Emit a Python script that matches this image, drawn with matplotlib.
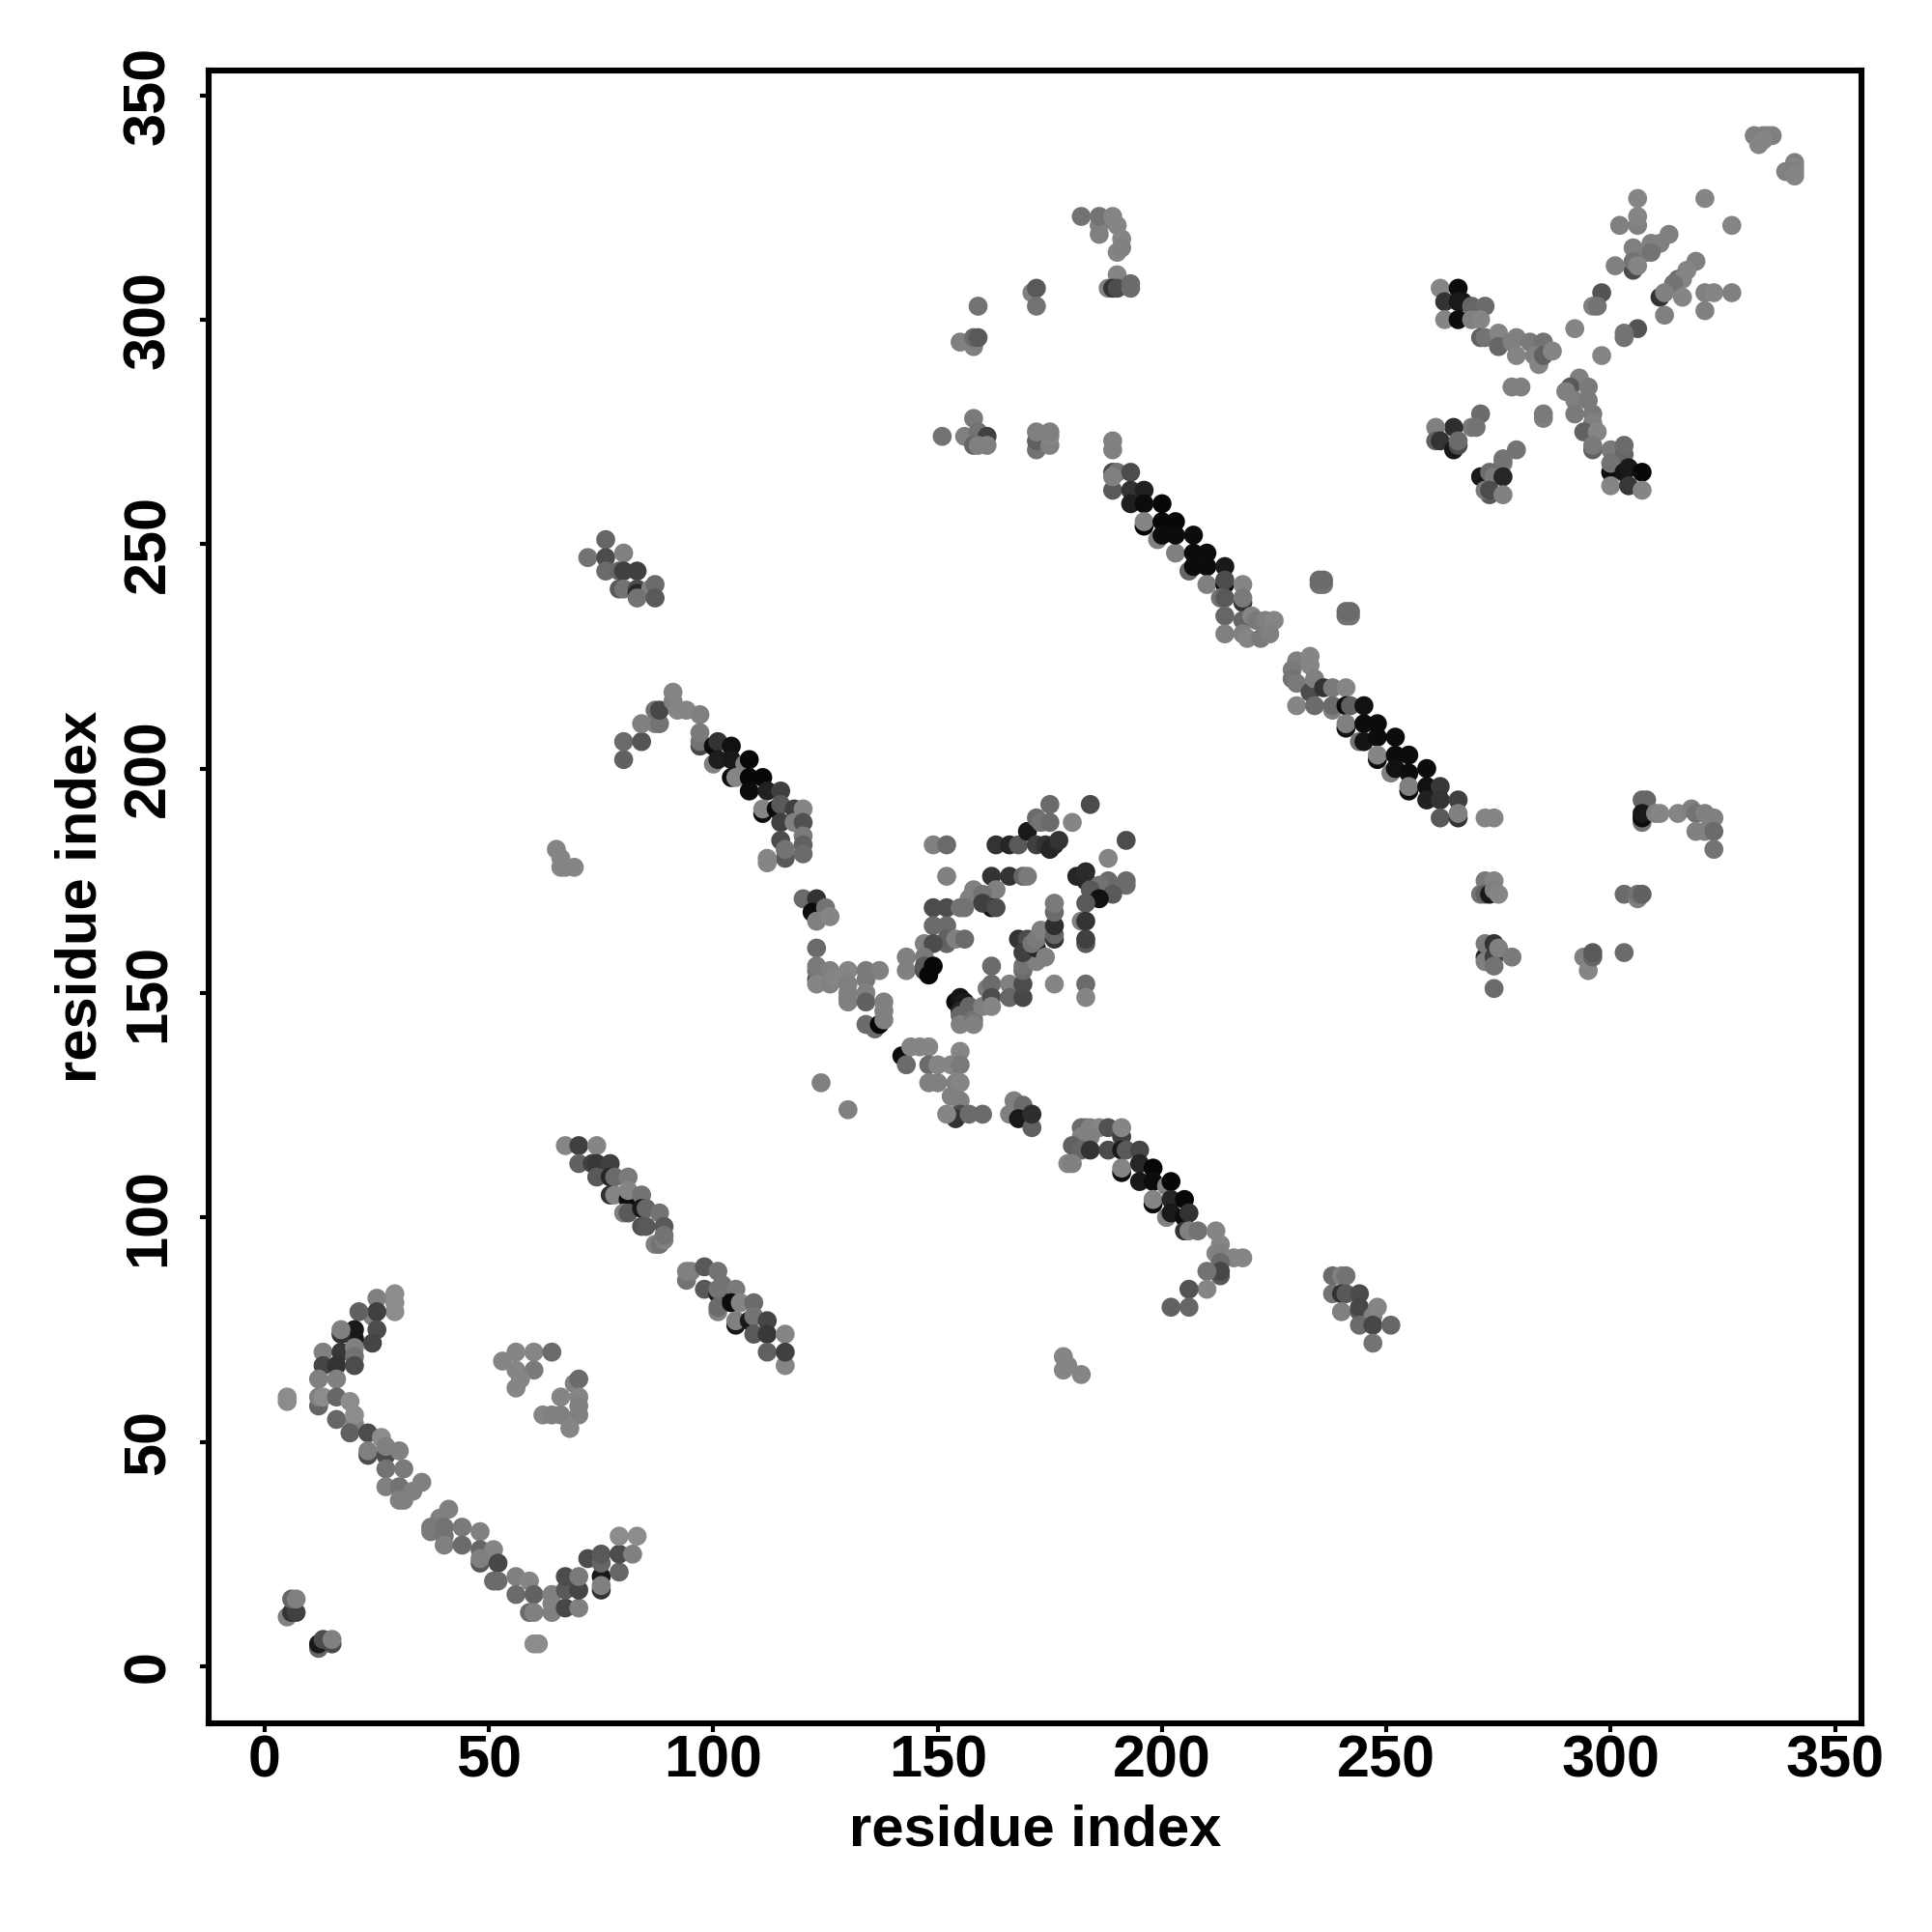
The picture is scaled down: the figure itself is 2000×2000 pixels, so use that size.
import numpy as np
import matplotlib
matplotlib.use('Agg')
import matplotlib.pyplot as plt

plt.rcParams['font.family'] = ['Liberation Sans', 'DejaVu Sans']
plt.rcParams['font.weight'] = 'bold'

# contacts: (residue i, residue j, gray level)
corner = [(5,11,.5),(6,12,.2),(7,12,.25),(6,15,.4),(7,15,.5),(12,4,.4),(12,5,.1),(13,6,.3),(15,5,.3),(15,6,.5),
          (60,5,.55),(61,5,.55),(5,59,.55),(5,60,.55)]
arm_up = [(29,79,.55),(29,81,.55),(29,83,.55),(25,82,.5),(24,78,.5),(25,79,.25),(21,79,.38),(25,75,.3),(24,72,.27),
          (20,73,.1),(20,75,.1),(17,74,.2),(17,75,.5),(13,70,.5),(17,70,.22),(20,71,.5),(20,69,.45),(13,67,.27),
          (16,67,.2),(20,67,.3),(12,64,.5),(16,64,.5),(12,58,.4),(12,60,.5),(13,60,.55),(16,60,.4),(19,59,.55)]
arm_down = [(16,55,.4),(20,54,.5),(20,56,.55),(19,52,.38),(23,52,.3),(26,51,.55),(23,47,.3),(23,48,.5),(27,47,.3),
            (27,49,.5),(30,48,.5),(27,44,.45),(31,44,.48),(27,40,.5),(30,40,.45),(35,41,.5),(33,39,.5),(30,37,.5),
            (31,37,.5),(41,35,.5),(39,33,.5),(37,30,.48),(37,31,.48),(40,29,.45),(40,31,.45),(40,27,.5),(44,31,.48),
            (44,27,.42),(48,30,.5),(48,26,.4),(51,26,.52),(48,23,.35),(48,24,.5),(52,23,.28),(51,19,.42),(52,19,.42),
            (56,20,.5),(59,19,.52),(56,16,.42),(60,16,.38),(64,14,.5),(64,16,.5),(59,12,.42),(60,12,.5),(64,12,.5)]
arm_right = [(67,13,.28),(67,17,.35),(67,20,.3),(70,13,.5),(70,17,.27),(70,20,.48),(72,24,.3),(75,17,.2),(75,20,.1),
             (75,18,.5),(75,23,.4),(75,25,.35),(79,21,.4),(79,25,.3),(82,25,.5),(79,29,.55),(83,29,.55)]
patch_mid = [(53,68,.52),(56,70,.52),(60,70,.52),(64,70,.42),(56,66,.52),(60,66,.48),(56,62,.52),(57,64,.52),
             (69,63,.5),(70,64,.42),(66,60,.52),(70,60,.52),(62,56,.52),(64,56,.5),(66,56,.5),(70,58,.5),(70,56,.5),
             (68,53,.52)]
strand_a = [(67,116,.52),(70,116,.25),(74,116,.52),(70,112,.38),(73,112,.25),(74,112,.22),(77,112,.25),(74,109,.35),
            (77,109,.15),(78,109,.42),(81,109,.48),(77,105,.2),(78,105,.52),(81,104,.05),(81,106,.52),(84,105,.45),
            (80,101,.5),(81,101,.35),(84,102,.1),(85,102,.4),(88,101,.45),(84,98,.32),(85,98,.35),(89,98,.35),
            (87,94,.5),(88,94,.45),(89,95,.5),(89,96,.45)]
strand_b = [(94,86,.45),(94,88,.5),(95,88,.5),(98,89,.35),(101,88,.45),(98,84,.35),(101,83,.1),(101,84,.45),(102,85,.45),
            (105,84,.48),(101,79,.5),(101,80,.42),(104,81,.05),(106,81,.52),(109,81,.42),(105,76,.1),(105,77,.5),
            (108,77,.1),(109,78,.45),(112,77,.27),(109,74,.35),(112,74,.22),(112,70,.38),(116,74,.52),(116,67,.52),
            (116,70,.25)]
hook_top = [(80,202,.38),(80,206,.42),(84,206,.33),(84,210,.5),(87,210,.5),(88,210,.45),(87,213,.45),(88,213,.28),
            (91,215,.5),(91,217,.52),(92,213,.52),(94,213,.52),(97,212,.5),(97,205,.28),(97,206,.45),(97,208,.48),
            (100,205,.05),(101,206,.2),(104,205,.07),(100,201,.5),(101,202,.12),(104,202,.1),(107,201,.5),(108,202,.03),
            (104,198,.05),(105,198,.52),(108,198,.03),(111,198,.03),(108,195,.05),(112,195,.13),(115,195,.25),
            (111,190,.05),(111,191,.52),(114,191,.05),(115,192,.35),(118,191,.25),(120,191,.52),(115,188,.25),
            (118,188,.5),(120,188,.32),(120,185,.48),(115,184,.3),(120,183,.38),(120,181,.42),(116,180,.35),(116,182,.45),
            (112,179,.52),(112,180,.52)]
patch_upper = [(76,251,.4),(72,247,.45),(76,247,.3),(80,248,.5),(76,244,.42),(79,244,.4),(80,244,.25),(83,244,.25),
               (79,240,.35),(80,240,.45),(83,240,.3),(83,239,.15),(86,240,.5),(87,241,.42),(83,238,.45),(87,238,.35)]
patch_left = [(65,182,.52),(66,180,.52),(66,178,.52),(67,178,.52),(69,178,.52)]
loop_chain = [(120,171,.42),(123,171,.2),(122,168,.05),(125,169,.45),(123,166,.5),(126,167,.52),(123,160,.42),(123,153,.3),
              (123,155,.45),(123,156,.48),(123,152,.52),(126,155,.5),(126,152,.5),(127,153,.52),(130,155,.52),(130,152,.5),
              (134,155,.48),(137,155,.5),(134,153,.48),(130,150,.5),(130,149,.5),(130,148,.5),(134,150,.5),(134,148,.38),
              (138,148,.5),(138,146,.5),(134,143,.42),(136,142,.42),(137,143,.03),(138,144,.5),
              (142,136,.05),(143,134,.42),(144,138,.52),(146,138,.52),(148,138,.52),(148,134,.42),(150,134,.52),(155,137,.52),
              (153,134,.52),(155,134,.48),(148,130,.5),(150,130,.5),(154,130,.5),(155,130,.52),(153,127,.5),(155,126,.5),
              (155,123,.3),(154,122,.2),(152,123,.52),(157,123,.42),(160,123,.42),(124,130,.5),(130,124,.5),
              (167,126,.5),(166,123,.5),(169,125,.42),(168,122,.1),(171,120,.38),(171,123,.18)]
center_a = [(149,183,.5),(152,183,.42),(152,176,.5),(163,183,.2),(166,183,.15),(168,183,.35),(170,186,.1),(172,183,.25),
            (175,192,.42),(172,189,.42),(173,188,.45),(175,188,.42),(174,183,.2),(175,182,.15),(176,183,.15),(177,184,.2),
            (180,188,.52),(184,192,.3),(192,184,.3),(188,180,.52),(181,176,.15),(183,175,.15),(183,177,.17),(188,175,.42),
            (192,174,.42),(192,175,.42),(186,174,.45),(184,173,.35),(189,172,.35),(186,171,.07),(183,170,.35),(182,166,.5),
            (183,166,.2),(183,161,.35),(183,162,.25)]
center_b = [(162,176,.2),(166,176,.2),(169,176,.4),(170,176,.48),(157,171,.5),(158,173,.5),(163,173,.5),(160,172,.45),
            (162,169,.07),(160,170,.25),(163,169,.3),(149,169,.3),(152,169,.3),(155,169,.45),(156,169,.45),(149,165,.42),
            (152,165,.42),(152,161,.4),(152,162,.38),(154,162,.5),(156,162,.42),(147,161,.5),(149,161,.3),(143,158,.5),
            (147,158,.48),(143,155,.5),(147,155,.3),(147,156,.35),(148,154,.03),(149,156,.03)]
center_c = [(154,148,.05),(155,149,.08),(156,148,.1),(155,146,.15),(157,147,.4),(155,145,.4),(155,143,.5),(158,144,.45),(158,143,.5),
            (160,147,.5),(162,156,.42),(161,151,.48),(162,152,.42),(162,149,.3),(162,147,.52),(166,152,.5),(166,149,.4),
            (169,149,.28),(169,152,.3),(169,155,.42),(169,156,.45),(172,157,.5),(176,152,.52),(183,152,.42),(183,149,.52),
            (168,162,.2),(170,162,.3),(169,159,.25),(172,160,.15),(171,161,.45),(172,162,.48),(173,164,.5),(174,158,.5),
            (176,162,.2),(176,163,.4),(176,165,.18),(176,168,.42),(176,170,.48)]
patch_low = [(178,69,.52),(178,66,.52),(179,67,.52),(182,65,.52)]
hook_low = [(182,120,.42),(183,120,.42),(184,120,.5),(186,120,.52),(188,120,.32),(182,118,.5),(184,118,.5),(191,118,.25),
            (191,120,.52),(180,116,.38),(182,115,.4),(184,115,.2),(188,115,.3),(191,115,.1),(192,115,.35),(195,115,.28),
            (179,112,.52),(180,112,.5),(191,110,.05),(191,111,.52),(195,112,.15),(198,111,.03),(195,108,.1),(198,108,.05),
            (201,107,.5),(202,108,.03),(198,103,.03),(198,104,.52),(202,104,.15),(205,104,.03),(201,100,.5),(202,101,.1),
            (205,100,.05),(206,101,.2),(205,97,.2),(206,97,.5),(208,97,.45),(212,97,.52),(213,94,.52),(212,92,.52),
            (213,92,.5),(216,91,.52),(218,91,.52),(213,90,.42),(213,87,.35),(213,88,.28),(210,88,.45),(210,84,.52),
            (206,84,.33),(202,80,.38),(206,80,.4)]
patch_low2 = [(238,87,.42),(240,87,.5),(241,87,.45),(238,83,.45),(240,83,.2),(241,83,.35),(244,83,.3),(240,79,.5),
              (244,79,.35),(244,80,.28),(247,78,.5),(248,80,.52),(244,76,.42),(247,76,.28),(251,76,.4),(247,72,.45)]
helix_a = [(189,266,.3),(190,266,.45),(193,266,.3),(189,262,.35),(189,265,.5),(193,262,.2),(193,259,.12),(196,262,.13),
           (196,259,.05),(196,254,.02),(196,255,.52),(200,259,.03),(199,251,.5),(200,255,.03),(203,255,.03),(200,252,.05),
           (203,248,.5),(203,252,.05),(207,252,.05),(206,244,.4),(207,248,.05),(210,248,.05),(207,245,.05),(210,245,.05),
           (214,245,.1),(210,241,.5),(214,241,.05),(214,242,.3),(218,241,.52),(213,238,.45),(214,238,.35),(218,237,.2),
           (218,238,.48),(214,234,.4),(218,233,.4),(214,230,.5),(220,234,.52),(221,233,.48),(223,233,.5),(225,233,.52),
           (218,230,.5),(219,229,.52),(222,229,.48),(224,230,.5),(235,241,.45),(236,241,.45),(235,242,.42),(236,242,.42),
           (241,234,.45),(242,234,.45),(241,235,.42),(242,235,.42)]
helix_b = [(230,224,.5),(233,225,.52),(233,223,.52),(229,222,.48),(229,220,.45),(230,219,.48),(233,217,.3),(234,220,.5),
           (230,214,.52),(234,214,.42),(236,218,.2),(238,218,.48),(241,218,.52),(238,213,.5),(238,214,.42),(241,214,.05),
           (242,214,.38),(245,214,.07),(241,209,.08),(241,210,.5),(245,210,.05),(248,210,.05),(244,206,.45),(245,206,.08),
           (248,207,.05),(252,207,.05),(248,202,.05),(248,203,.52),(252,203,.05),(255,203,.05),(251,199,.5),(252,200,.07),
           (255,199,.05),(259,200,.05),(255,195,.05),(255,196,.5),(259,196,.07),(262,196,.22),(259,193,.13),(262,193,.2),
           (266,193,.25),(262,189,.35),(266,189,.2),(266,190,.5),(272,189,.52),(274,189,.52)]
far_right = [(307,193,.4),(308,193,.4),(307,188,.45),(307,189,.05),(307,190,.1),(310,190,.5),(311,190,.52),(315,190,.52),
             (318,191,.5),(319,190,.45),(321,190,.5),(323,189,.5),(319,186,.5),(321,186,.5),(323,186,.42),(323,182,.45),
             (272,175,.48),(274,175,.52),(271,172,.45),(272,172,.38),(273,172,.1),(274,173,.5),(275,172,.52),
             (272,158,.15),(272,157,.5),(272,161,.48),(274,158,.25),(274,161,.2),(275,160,.5),(278,158,.48),(274,156,.45),
             (274,151,.42),(294,158,.5),(295,155,.52),(296,158,.4),(296,159,.35),(303,159,.42),(303,172,.42),(306,171,.5),
             (306,172,.45),(307,172,.38)]
upper_mid = [(182,323,.45),(186,319,.5),(186,321,.5),(186,323,.45),(189,323,.52),(190,321,.52),(191,318,.52),(190,315,.52),
             (191,316,.5),(190,310,.52),(188,307,.5),(189,307,.2),(190,307,.3),(193,307,.42),(193,308,.42),
             (171,306,.5),(172,307,.35),(172,303,.45),(159,303,.45),(155,295,.5),(158,294,.5),(158,296,.42),(159,296,.35),
             (158,278,.48),(151,274,.45),(156,274,.5),(159,275,.45),(161,274,.25),(158,272,.4),(159,272,.5),(161,272,.5),
             (172,271,.45),(172,273,.38),(172,275,.5),(175,272,.5),(175,274,.52),(175,275,.5),(189,271,.5),(189,273,.5)]
cross_nw = [(262,307,.52),(266,307,.05),(263,304,.2),(266,304,.1),(267,304,.1),(269,303,.4),(272,303,.42),(263,300,.52),
            (266,300,.05),(269,300,.5),(271,300,.52),(271,296,.38),(272,296,.45),(275,297,.52),(275,294,.4),(278,295,.5),
            (279,296,.5),(282,295,.48),(285,295,.45),(279,292,.52),(283,292,.5),(284,290,.52),(285,292,.38),(287,293,.52),
            (278,285,.5),(280,285,.5),(285,278,.5),(285,279,.48)]
cross_sw = [(271,279,.42),(269,276,.48),(270,276,.45),(265,276,.18),(261,276,.5),(261,273,.38),(262,273,.2),(265,271,.1),
            (266,272,.3),(266,273,.42),(279,271,.45),(276,268,.48),(276,269,.45),(271,265,.1),(273,266,.42),(274,265,.48),
            (276,265,.15),(273,261,.35),(272,262,.48),(273,262,.3),(276,261,.5)]
cross_se = [(293,287,.5),(291,285,.35),(295,285,.48),(290,284,.5),(292,282,.5),(295,282,.48),(292,279,.48),(296,279,.48),
            (296,277,.5),(294,275,.38),(297,275,.52),(296,271,.38),(296,272,.48),(300,271,.48),(303,270,.4),(303,272,.42),
            (300,266,.05),(300,268,.45),(303,266,.08),(304,267,.1),(307,266,.03),(300,263,.52),(304,263,.22),(307,262,.52)]
cross_ne = [(298,306,.33),(296,303,.5),(297,303,.45),(292,298,.52),(306,298,.33),(303,296,.45),(303,297,.45),(298,292,.52),
            (306,327,.52),(321,327,.52),(327,321,.52),(306,321,.5),(306,323,.52),(302,321,.5),(313,319,.5),(311,317,.5),
            (309,317,.5),(305,316,.5),(308,315,.5),(309,315,.45),(305,311,.3),(305,313,.45),(306,312,.52),(301,312,.5),
            (319,313,.5),(317,311,.52),(315,309,.42),(316,309,.52),(314,308,.45),(311,305,.2),(312,306,.5),(316,305,.52),
            (321,306,.5),(323,306,.52),(327,306,.5),(321,302,.5),(312,301,.5)]
top_end = [(332,341,.5),(334,341,.5),(335,341,.5),(336,341,.5),(334,340,.52),(333,339,.52),
           (341,335,.5),(341,334,.52),(339,333,.5),(341,333,.5),(341,332,.52)]

tick_values = [0, 50, 100, 150, 200, 250, 300, 350]

contacts = np.array(corner + arm_up + arm_down + arm_right + patch_mid + strand_a + strand_b + hook_top
                    + patch_upper + patch_left + loop_chain + center_a + center_b + center_c + patch_low
                    + hook_low + patch_low2 + helix_a + helix_b + far_right + upper_mid + cross_nw
                    + cross_sw + cross_se + cross_ne + top_end)

fig = plt.figure(figsize=(10, 10), dpi=200)
ax = fig.add_axes([216/2000, 1-1784/2000, (1927-216)/2000, (1784-73)/2000])

ax.scatter(contacts[:, 0], contacts[:, 1], c=contacts[:, 2], cmap='gray', vmin=0, vmax=1,
           s=50, linewidths=0, zorder=3)

ax.set_xlim(-12.5, 355.9)
ax.set_ylim(-12.7, 355.5)
ax.set_xticks(tick_values)
ax.set_yticks(tick_values)
ax.tick_params(axis='x', length=3.2, width=1.5, pad=0.8, labelsize=22)
ax.tick_params(axis='y', length=3.2, width=1.5, pad=8.5, labelsize=22)
for lab in ax.get_yticklabels():
    lab.set_rotation(90)
    lab.set_va('center')
for side in ax.spines.values():
    side.set_linewidth(2.2)

ax.set_xlabel('residue index', fontsize=21.5, fontweight='bold', labelpad=5.5)
ax.set_ylabel('residue index', fontsize=21.5, fontweight='bold', labelpad=5.5)

fig.savefig('out.png', dpi=200, facecolor='white')
